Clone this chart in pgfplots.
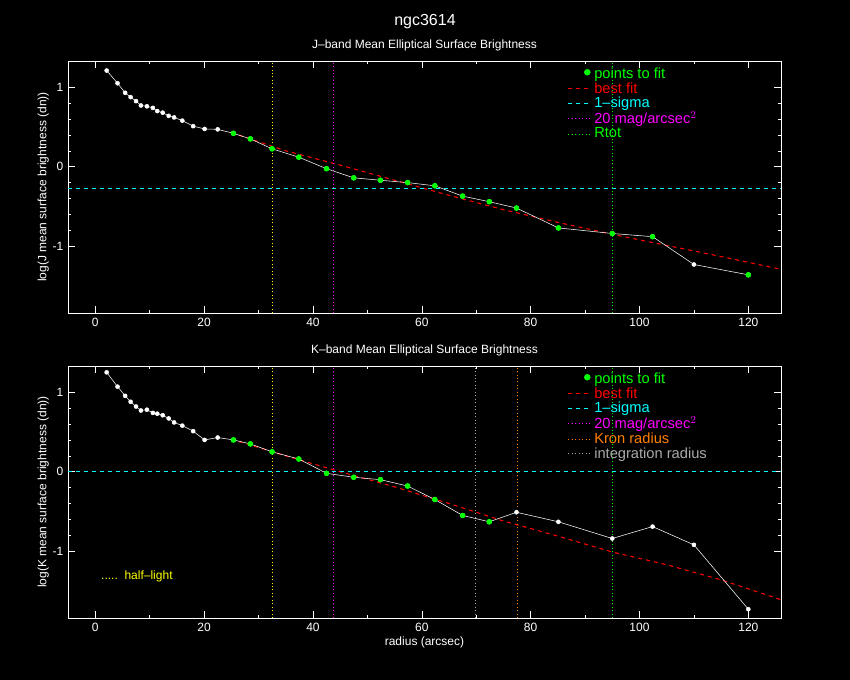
\documentclass[border=0pt]{standalone}
\usepackage{pgfplots}
\pgfplotsset{compat=1.18}
\usepackage{fontspec}
\setmainfont{Liberation Sans}
\definecolor{pgreen}{RGB}{0,255,0}
\definecolor{pcyan}{RGB}{0,255,255}
\definecolor{pmag}{RGB}{255,0,255}
\definecolor{porange}{RGB}{255,128,0}
\definecolor{pgray}{RGB}{170,170,170}
\definecolor{pyellow}{RGB}{255,255,0}
\begin{document}
\begin{tikzpicture}
\fill[black] (0,0) rectangle (637.5pt,510pt);
\pgfplotsset{
  every axis/.append style={
    scale only axis, width=534.75pt, height=189pt,
    xmin=-5, xmax=126, ymin=-1.84, ymax=1.33,
    axis line style={white}, tick style={white, thin},
    tick align=inside, major tick length=5pt, minor tick length=2.5pt,
    xtick={0,20,...,120}, minor x tick num=1,
    ytick={-1,0,1}, minor y tick num=4,
    ticklabel style={white, font=\fontsize{9}{10}\selectfont},
    /pgf/number format/assume math mode=true,
    label style={white, font=\fontsize{9}{10}\selectfont},
    title style={white, font=\fontsize{9}{10}\selectfont},
    legend style={draw=none, fill=none, at={(0.695,0.995)}, anchor=north west,
      font=\fontsize{11}{9}\selectfont, row sep=-2.5pt, legend cell align=left},
    legend image code/.code={\draw[#1] (0cm,0cm) -- (0.6cm,0cm);},
  },
  dotleg/.style={legend image code/.code={\fill[pgreen] (0.5cm,0.05cm) circle (2.2pt);}},
}
% ---------- top panel ----------
\begin{axis}[at={(51pt,275.25pt)}, anchor=south west,
  title={J--band Mean Elliptical Surface Brightness},
  title style={yshift=-2pt},
  ylabel={log(J mean surface brightness (dn))}, ylabel style={yshift=-4pt}]
\addplot[only marks, mark=*, mark size=1.8pt, pgreen, dotleg] coordinates {(25.4,0.42)(28.5,0.35)(32.5,0.225)(37.4,0.12)(42.5,-0.025)(47.5,-0.14)(52.4,-0.17)(57.4,-0.20)(62.4,-0.24)(67.5,-0.37)(72.4,-0.44)(77.4,-0.52)(85.1,-0.77)(95.0,-0.84)(102.4,-0.88)(120,-1.36)};
\addlegendentry{\textcolor{pgreen}{points to fit}}
\addplot[red, dashed, thick] coordinates {(25,0.43)(35,0.20)(45,0.02)(55,-0.17)(65,-0.36)(75,-0.54)(85,-0.70)(95,-0.85)(105,-0.99)(115,-1.13)(126,-1.29)};
\addlegendentry{\textcolor{red}{best fit}}
\addplot[pcyan, dashed, thick] coordinates {(-5,-0.27)(126,-0.27)};
\addlegendentry{\textcolor{pcyan}{1--sigma}}
\addplot[pmag, dotted, semithick] coordinates {(43.7,-1.84)(43.7,1.33)};
\addlegendentry{\textcolor{pmag}{20 mag/arcsec$^2$}}
\addplot[pgreen, dotted, semithick] coordinates {(95,-1.84)(95,1.33)};
\addlegendentry{\textcolor{pgreen}{Rtot}}
\addplot[pyellow, dotted, semithick, forget plot] coordinates {(32.5,-1.84)(32.5,1.33)};
\addplot[white, mark=*, mark size=1.5pt, forget plot] coordinates {(2.1,1.21)(4.1,1.05)(5.5,0.93)(6.5,0.875)(7.5,0.825)(8.4,0.77)(9.5,0.76)(10.6,0.74)(11.4,0.70)(12.4,0.68)(13.5,0.64)(14.5,0.62)(16.0,0.58)(18.0,0.51)(20.1,0.475)(22.5,0.47)(25.4,0.42)(28.5,0.35)(32.5,0.225)(37.4,0.12)(42.5,-0.025)(47.5,-0.14)(52.4,-0.17)(57.4,-0.20)(62.4,-0.24)(67.5,-0.37)(72.4,-0.44)(77.4,-0.52)(85.1,-0.77)(95.0,-0.84)(102.4,-0.88)(110,-1.23)(120,-1.36)};
\addplot[only marks, mark=*, mark size=1.8pt, pgreen, forget plot] coordinates {(25.4,0.42)(28.5,0.35)(32.5,0.225)(37.4,0.12)(42.5,-0.025)(47.5,-0.14)(52.4,-0.17)(57.4,-0.20)(62.4,-0.24)(67.5,-0.37)(72.4,-0.44)(77.4,-0.52)(85.1,-0.77)(95.0,-0.84)(102.4,-0.88)(120,-1.36)};
\end{axis}
\node[white, font=\fontsize{12}{12}\selectfont] at (318.75pt,493.5pt) {ngc3614};
% ---------- bottom panel ----------
\begin{axis}[at={(51pt,46.5pt)}, anchor=south west,
  title={K--band Mean Elliptical Surface Brightness},
  title style={yshift=-2pt},
  xlabel={radius (arcsec)}, xlabel style={yshift=3pt},
  ylabel={log(K mean surface brightness (dn))}, ylabel style={yshift=-4pt}]
\addplot[only marks, mark=*, mark size=1.8pt, pgreen, dotleg] coordinates {(25.4,0.40)(28.5,0.35)(32.5,0.25)(37.4,0.16)(42.5,-0.02)(47.5,-0.07)(52.4,-0.10)(57.4,-0.18)(62.4,-0.35)(67.5,-0.55)(72.4,-0.63)};
\addlegendentry{\textcolor{pgreen}{points to fit}}
\addplot[red, dashed, thick] coordinates {(25,0.41)(35,0.20)(45,0.0)(55,-0.19)(65,-0.40)(75,-0.62)(85,-0.81)(95,-1.01)(105,-1.17)(115,-1.36)(126,-1.61)};
\addlegendentry{\textcolor{red}{best fit}}
\addplot[pcyan, dashed, thick] coordinates {(-5,0)(126,0)};
\addlegendentry{\textcolor{pcyan}{1--sigma}}
\addplot[pmag, dotted, semithick] coordinates {(43.7,-1.84)(43.7,1.33)};
\addlegendentry{\textcolor{pmag}{20 mag/arcsec$^2$}}
\addplot[porange, dotted, semithick] coordinates {(77.5,-1.84)(77.5,1.33)};
\addlegendentry{\textcolor{porange}{Kron radius}}
\addplot[pgray, dotted, semithick] coordinates {(69.9,-1.84)(69.9,1.33)};
\addlegendentry{\textcolor{pgray}{integration radius}}
\addplot[pgreen, dotted, semithick, forget plot] coordinates {(95,-1.84)(95,1.33)};
\addplot[pyellow, dotted, semithick, forget plot] coordinates {(32.5,-1.84)(32.5,1.33)};
\addplot[white, mark=*, mark size=1.5pt, forget plot] coordinates {(2.1,1.25)(4.1,1.07)(5.5,0.955)(6.5,0.88)(7.5,0.82)(8.4,0.77)(9.5,0.78)(10.6,0.74)(11.4,0.73)(12.4,0.71)(13.5,0.67)(14.5,0.62)(16.0,0.58)(18.0,0.51)(20.1,0.40)(22.5,0.43)(25.4,0.40)(28.5,0.35)(32.5,0.25)(37.4,0.16)(42.5,-0.02)(47.5,-0.07)(52.4,-0.10)(57.4,-0.18)(62.4,-0.35)(67.5,-0.55)(72.4,-0.63)(77.4,-0.51)(85.1,-0.63)(95,-0.84)(102.4,-0.69)(110,-0.92)(120,-1.73)};
\addplot[only marks, mark=*, mark size=1.8pt, pgreen, forget plot] coordinates {(25.4,0.40)(28.5,0.35)(32.5,0.25)(37.4,0.16)(42.5,-0.02)(47.5,-0.07)(52.4,-0.10)(57.4,-0.18)(62.4,-0.35)(67.5,-0.55)(72.4,-0.63)};
\node[pyellow, anchor=west, font=\fontsize{9}{10}\selectfont] at (rel axis cs:0.04,0.165) {.....\ \ half--light};
\end{axis}
\end{tikzpicture}
\end{document}
